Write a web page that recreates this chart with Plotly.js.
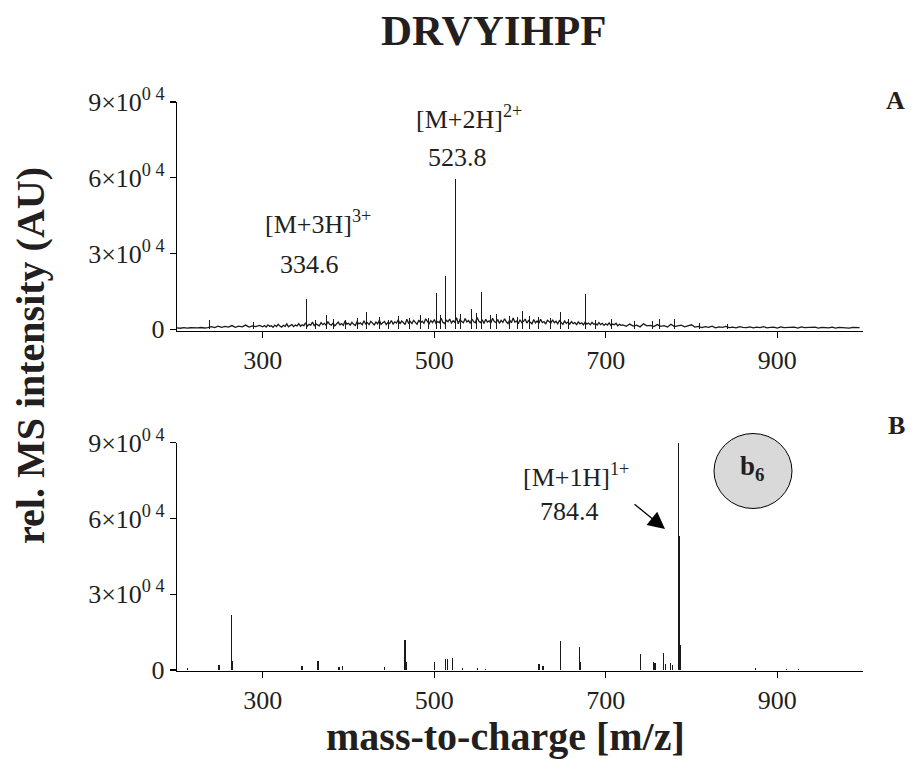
<!DOCTYPE html>
<html>
<head>
<meta charset="utf-8">
<script src="https://cdn.plot.ly/plotly-3.0.1.min.js"></script>
<style>html,body{margin:0;padding:0;background:#fff;}#chart{width:915px;height:759px;}</style>
</head>
<body>
<div id="chart"></div>
<script>
// ---------- DATA ----------
// Panel A: baseline noise of the spectrum (m/z, intensity)
const noiseMz = [
200,204,208,212,216,220,224,228,232,236,240,244,248,252,256,260,264,268,272,276,280,284,288,292,296,
300,302,304,306,308,310,312,314,316,318,
320,322,324,326,328,330,332,334,336,338,
340,342,344,346,348,350,352,354,356,358,
360,362,364,366,368,370,372,374,376,378,
380,382,384,386,388,390,392,394,396,398,
400,402,404,406,408,410,412,414,416,418,
420,422,424,426,428,430,432,434,436,438,
440,442,444,446,448,450,452,454,456,458,
460,462,464,466,468,470,472,474,476,478,
480,482,484,486,488,490,492,494,496,498,
500,502,504,506,508,510,512,514,516,518,
520,522,524,526,528,530,532,534,536,538,
540,542,544,546,548,550,552,554,556,558,
560,562,564,566,568,570,572,574,576,578,
580,582,584,586,588,590,592,594,596,598,
600,602,604,606,608,610,612,614,616,618,
620,622,624,626,628,630,632,634,636,638,
640,642,644,646,648,650,652,654,656,658,
660,662,664,666,668,670,672,674,676,678,
680,682,684,686,688,690,692,694,696,698,
700,702,704,706,708,710,712,714,716,718,
720,724,728,732,736,740,744,748,752,756,760,764,768,772,776,780,784,788,792,796,800,
804,808,812,816,820,824,828,832,836,840,844,848,852,856,860,864,868,872,876,880,884,888,892,896,900,
904,908,912,916,920,924,928,932,936,940,944,948,952,956,960,964,968,972,976,980,984,988,992,996
];
const noiseInt = [
600,450,700,500,650,500,600,750,550,700,1100,700,1300,800,1200,900,1500,800,1300,1000,1700,900,1400,1100,1600,
1000,1500,900,1800,1200,1400,800,1700,1100,2000,
1300,900,1600,1200,2200,1000,1500,1900,1100,1700,
1400,2300,1200,1800,1500,2600,1300,2000,1700,2900,
1500,2200,1800,1400,2700,1900,2400,1600,3100,2000,
1700,2500,1400,2200,2900,1800,2300,1600,3300,2100,
2400,1700,2800,2000,1500,3000,2200,2600,1800,3400,
2100,2700,1900,3200,2400,1800,2900,2200,3600,2000,
2600,3100,1900,2800,2300,3500,2100,3000,2500,3800,
2200,3300,2700,1900,4000,2500,3100,2300,3600,2800,
2000,3700,2600,3200,2400,4200,2900,2200,3500,2700,
3900,2400,3100,2600,4400,2800,2300,3600,3000,4100,
2500,3400,2800,4600,2200,3900,3100,2600,4300,2900,
3500,2400,4100,3000,2600,4700,3200,2700,3800,2300,
4000,2900,3400,2500,4400,3100,2700,3900,2400,3600,
2800,4200,3000,2300,3700,2600,4500,2900,3300,2200,
3800,2700,3200,4100,2500,3500,2800,2200,3900,2600,
3300,2400,4000,2700,3100,2100,3600,2900,2500,3800,
2600,3200,2200,3500,2800,2000,3300,2400,2900,2100,
3100,2300,2700,1900,3000,2200,2600,1800,2900,2100,
2500,1800,2800,2000,2300,1700,2700,1900,2400,1600,
2200,1700,2600,1500,2100,1800,2400,1400,2000,1600,
1800,1200,2100,1300,1700,1000,2200,1400,1600,1100,1900,1200,1500,900,2000,1100,1400,1700,1000,1300,1800,
900,1200,700,1100,800,1300,600,1000,800,1200,700,900,600,1100,800,700,1000,600,900,700,1100,600,800,900,500,
1000,700,800,600,900,500,1000,700,800,600,900,500,800,700,600,900,500,800,600,700,500,800,600,700
];
// Panel A: small noise spikes
const spikeAMz  = [256, 289, 362, 383, 397, 411, 436, 447, 458, 471, 484, 493, 507, 531, 549, 566, 573, 588, 597, 611, 622, 636, 657, 688, 707, 733, 755, 809, 842];
const spikeAInt = [2600, 3000, 3800, 4200, 3600, 4500, 4800, 3900, 5200, 4600, 5500, 4400, 5800, 6200, 6500, 5600, 6000, 5400, 4900, 5300, 5000, 4600, 4100, 3900, 4300, 3500, 3300, 2500, 2200];
// Panel A: distinct peaks
const peaksAMz  = [237.5, 350.7, 374.7, 421.4, 502.3, 513.5, 524.4, 543.5, 555.5, 603.0, 647.6, 676.7, 762.3, 780.5];
const peaksAInt = [3700, 11900, 5700, 7000, 14300, 21200, 59700, 8200, 14800, 7400, 6900, 14000, 4000, 4000];

// Panel B: stick peaks
const peaksBMz  = [212, 249, 263.4, 265, 345.8, 364.4, 389, 392.8, 441.8, 465.9, 467.5, 500.5, 513.3, 515.2, 521, 532.7, 550.2, 560,
                   622.2, 626.8, 647.5, 669.2, 670.8, 740.8, 756, 757.5, 767.2, 770, 775.8, 778, 785, 786, 787, 874.9, 910.7, 924.5];
const peaksBInt = [800, 2000, 21800, 3500, 1600, 3600, 1000, 1600, 1300, 11900, 3000, 3300, 4200, 4400, 4600, 800, 600, 500,
                   2300, 1600, 11600, 9200, 3300, 6200, 3300, 2700, 6600, 2300, 2900, 2000, 90000, 53000, 9900, 800, 300, 300];

// Axis ticks
const xTickVals = [300, 500, 700, 900];
const xTickText = ['300', '500', '700', '900'];
const yTickVals = [0, 30000, 60000, 90000];
const yTickText = ['0', '3×10<sup>0 4</sup>', '6×10<sup>0 4</sup>', '9×10<sup>0 4</sup>'];

// Labels
const titleText = '<b>DRVYIHPF</b>';
const yTitleText = '<b>rel. MS intensity (AU)</b>';
const xTitleText = '<b>mass-to-charge [m/z]</b>';

// ---------- LAYOUT HELPERS ----------
const W = 915, H = 759;
const mL = 177, mR = 52, mT = 102, mB = 88;
const pw = W - mL - mR, ph = H - mT - mB;
const px = v => (v - mL) / pw;
const py = v => (H - mB - v) / ph;

const serif = '"Liberation Serif", "Times New Roman", serif';
const ink = '#231f20';

const traces = [
  { x: noiseMz, y: noiseInt, type: 'scatter', mode: 'lines', xaxis: 'x', yaxis: 'y',
    line: { color: '#1a1a1a', width: 1.3 }, hoverinfo: 'skip' },
  { x: spikeAMz, y: spikeAInt, type: 'bar', xaxis: 'x', yaxis: 'y', width: 1.1,
    marker: { color: '#1a1a1a', line: { width: 0 } }, hoverinfo: 'skip' },
  { x: peaksAMz, y: peaksAInt, type: 'bar', xaxis: 'x', yaxis: 'y', width: 1.4,
    marker: { color: '#1a1a1a', line: { width: 0 } }, hoverinfo: 'skip' },
  { x: peaksBMz, y: peaksBInt, type: 'bar', xaxis: 'x2', yaxis: 'y2', width: 1.4,
    marker: { color: '#1a1a1a', line: { width: 0 } }, hoverinfo: 'skip' }
];

const xAxisBase = {
  range: [200, 1000], tickvals: xTickVals, ticktext: xTickText,
  showline: true, linecolor: '#000', linewidth: 1.2, ticks: 'outside', ticklen: 6, tickcolor: '#000', tickwidth: 1.2,
  showgrid: false, zeroline: false, tickfont: { family: serif, size: 26, color: ink }, fixedrange: true
};
const yAxisBase = {
  tickvals: yTickVals, ticktext: yTickText,
  showline: true, linecolor: '#000', linewidth: 1.2, ticks: 'outside', ticklen: 6, tickcolor: '#000', tickwidth: 1.2,
  showgrid: false, zeroline: false, tickfont: { family: serif, size: 26, color: ink }, fixedrange: true
};

const layout = {
  width: W, height: H,
  margin: { l: mL, r: mR, t: mT, b: mB },
  paper_bgcolor: '#fff', plot_bgcolor: '#fff',
  showlegend: false, bargap: 0, barmode: 'overlay',
  xaxis:  Object.assign({}, xAxisBase, { domain: [0, 1], anchor: 'y' }),
  yaxis:  Object.assign({}, yAxisBase, { domain: [0.5975, 1], range: [-650, 90000], anchor: 'x' }),
  xaxis2: Object.assign({}, xAxisBase, { domain: [0, 1], anchor: 'y2' }),
  yaxis2: Object.assign({}, yAxisBase, { domain: [0, 0.4012], range: [-400, 90000], anchor: 'x2' }),
  shapes: [
    { type: 'circle', xref: 'paper', yref: 'paper',
      x0: px(753 - 39), x1: px(753 + 39), y0: py(471 + 37.5), y1: py(471 - 37.5),
      fillcolor: '#d9d9d9', line: { color: '#000', width: 1 } }
  ],
  annotations: [
    { text: titleText, xref: 'paper', yref: 'paper', x: px(493), y: py(30), showarrow: false,
      xanchor: 'center', yanchor: 'middle', font: { family: serif, size: 43, color: ink } },
    { text: '<b>A</b>', xref: 'paper', yref: 'paper', x: px(895), y: py(100), showarrow: false,
      xanchor: 'center', yanchor: 'middle', font: { family: serif, size: 26, color: ink } },
    { text: '<b>B</b>', xref: 'paper', yref: 'paper', x: px(897), y: py(425), showarrow: false,
      xanchor: 'center', yanchor: 'middle', font: { family: serif, size: 26, color: ink } },
    { text: yTitleText, xref: 'paper', yref: 'paper', x: px(30), y: py(356), showarrow: false, textangle: -90,
      xanchor: 'center', yanchor: 'middle', font: { family: serif, size: 40, color: ink } },
    { text: xTitleText, xref: 'paper', yref: 'paper', x: px(505), y: py(736), showarrow: false,
      xanchor: 'center', yanchor: 'middle', font: { family: serif, size: 40, color: ink } },
    { text: '[M+2H]<sup>2+</sup>', xref: 'paper', yref: 'paper', x: px(469), y: py(117), showarrow: false,
      xanchor: 'center', yanchor: 'middle', font: { family: serif, size: 26, color: ink } },
    { text: '523.8', xref: 'paper', yref: 'paper', x: px(457), y: py(158), showarrow: false,
      xanchor: 'center', yanchor: 'middle', font: { family: serif, size: 26, color: ink } },
    { text: '[M+3H]<sup>3+</sup>', xref: 'paper', yref: 'paper', x: px(318), y: py(222), showarrow: false,
      xanchor: 'center', yanchor: 'middle', font: { family: serif, size: 26, color: ink } },
    { text: '334.6', xref: 'paper', yref: 'paper', x: px(309), y: py(264), showarrow: false,
      xanchor: 'center', yanchor: 'middle', font: { family: serif, size: 26, color: ink } },
    { text: '[M+1H]<sup>1+</sup>', xref: 'paper', yref: 'paper', x: px(576), y: py(475), showarrow: false,
      xanchor: 'center', yanchor: 'middle', font: { family: serif, size: 26, color: ink } },
    { text: '784.4', xref: 'paper', yref: 'paper', x: px(569), y: py(511), showarrow: false,
      xanchor: 'center', yanchor: 'middle', font: { family: serif, size: 26, color: ink } },
    { text: '', xref: 'paper', yref: 'paper', x: px(665), y: py(529), ax: -32, ay: -26,
      showarrow: true, arrowhead: 2, arrowsize: 2.6, arrowwidth: 1.3, arrowcolor: '#000' },
    { text: '<b>b<sub>6</sub></b>', xref: 'paper', yref: 'paper', x: px(752), y: py(468), showarrow: false,
      xanchor: 'center', yanchor: 'middle', font: { family: serif, size: 27, color: ink } }
  ]
};

Plotly.newPlot('chart', traces, layout, { staticPlot: true, displayModeBar: false });
</script>
</body>
</html>
